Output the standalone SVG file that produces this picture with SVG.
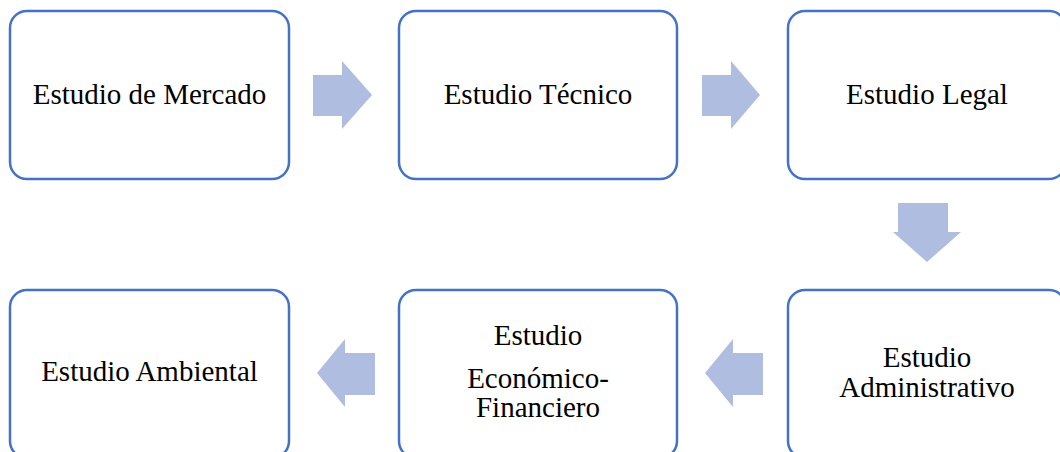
<svg xmlns="http://www.w3.org/2000/svg" width="1060" height="452" viewBox="0 0 1060 452">
<style>
.box{fill:#fff;stroke:#4472C4;stroke-width:2.5}
.lbl{font-size:29px;fill:#000;text-anchor:middle}
.arr{fill:#AFBDE0}
</style>
<rect width="1060" height="452" fill="#fff"/>
<g id="connectors">
<polygon class="arr" points="313,75 342,75 342,61 372,95 342,129 342,116 313,116"/>
<polygon class="arr" points="702,75 731,75 731,61 760,95 731,129 731,116 702,116"/>
<polygon class="arr" points="898,203 948,203 948,232 961,232 927,262 893,232 898,232"/>
<polygon class="arr" points="763,353 733,353 733,339 705,373 733,407 733,395 763,395"/>
<polygon class="arr" points="375,353 345,353 345,339 317,373 345,407 345,395 375,395"/>
</g>
<g font-family="Liberation Serif, Times New Roman, DejaVu Serif, serif">
<g id="n1"><rect class="box" x="10" y="11" width="279" height="168" rx="17"/><text class="lbl" x="149.5" y="104">Estudio de Mercado</text></g>
<g id="n2"><rect class="box" x="399" y="11" width="278" height="168" rx="17"/><text class="lbl" x="538" y="104">Estudio Técnico</text></g>
<g id="n3"><rect class="box" x="788" y="11" width="278" height="168" rx="17"/><text class="lbl" x="927" y="104">Estudio Legal</text></g>
<g id="n4"><rect class="box" x="788" y="290" width="278" height="168" rx="17"/><text class="lbl" x="927" y="367">Estudio</text><text class="lbl" x="927" y="397">Administrativo</text></g>
<g id="n5"><rect class="box" x="399" y="290" width="278" height="168" rx="17"/><text class="lbl" x="538" y="345">Estudio</text><text class="lbl" x="538" y="388">Económico-</text><text class="lbl" x="538" y="417">Financiero</text></g>
<g id="n6"><rect class="box" x="10" y="290" width="279" height="168" rx="17"/><text class="lbl" x="149.5" y="381">Estudio Ambiental</text></g>
</g>
</svg>
